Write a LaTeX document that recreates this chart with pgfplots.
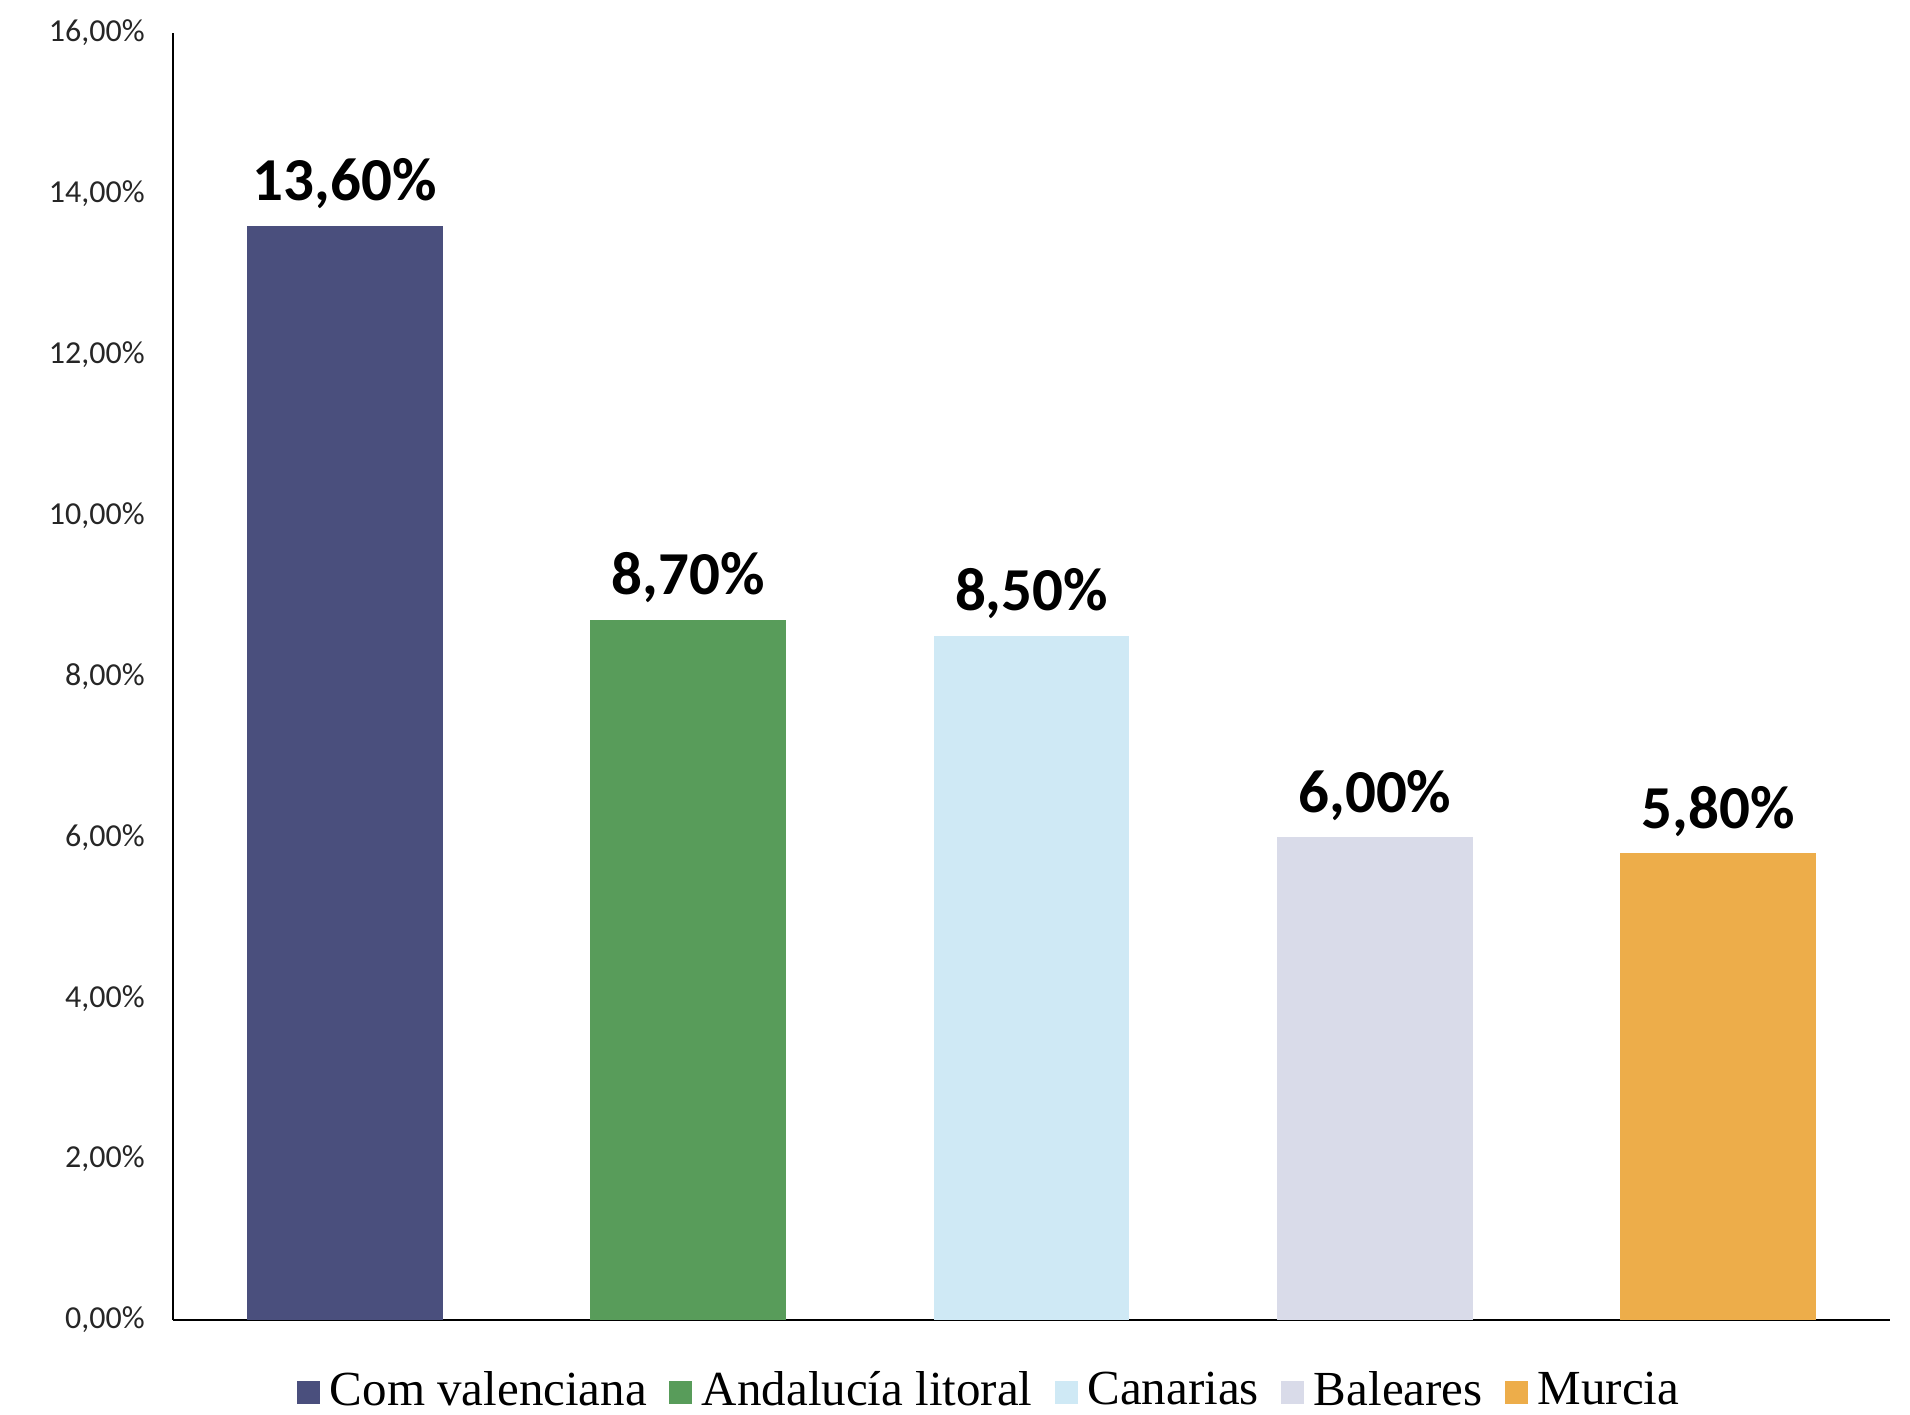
\documentclass[border=0pt]{standalone}
\usepackage{pgfplots}
\pgfplotsset{compat=1.18}
\usepackage{fontspec}
\setmainfont{Carlito}
\newfontfamily\legfont{Liberation Serif}
\definecolor{c1}{HTML}{4A4F7D}
\definecolor{c2}{HTML}{589C5A}
\definecolor{c3}{HTML}{CFE9F5}
\definecolor{c4}{HTML}{D9DBE9}
\definecolor{c5}{HTML}{EDAD4A}
\begin{document}
\begin{tikzpicture}
\begin{axis}[
  at={(0,0)}, anchor=south west,
  width=858.5pt, height=643.5pt, scale only axis,
  xmin=-0.5, xmax=4.5, ymin=0, ymax=16,
  axis x line=bottom, axis y line=left,
  axis line style={line width=1.1pt, -},
  xtick=\empty,
  ytick={0,2,4,6,8,10,12,14,16},
  yticklabels={{0,00\%},{2,00\%},{4,00\%},{6,00\%},{8,00\%},{10,00\%},{12,00\%},{14,00\%},{16,00\%}},
  major tick length=0pt,
  yticklabel style={font=\fontsize{16}{18}\selectfont, inner xsep=0pt, xshift=-14pt, text=black!85},
  ybar, bar width=0.57, bar shift=0pt,
  nodes near coords={\pgfmathprintnumber[fixed,fixed zerofill,precision=2,use comma,assume math mode=true]{\pgfplotspointmeta}\%},
  every node near coord/.append style={font=\bfseries\fontsize{30.5}{32}\selectfont, text=black, anchor=south, yshift=5pt},
  legend columns=5,
  legend style={draw=none, fill=none, at={(408.5pt,-35pt)}, anchor=center,
    font=\legfont\fontsize{24.5}{26}\selectfont,
    /tikz/every even column/.append style={column sep=9pt},
    /tikz/every odd column/.append style={column sep=3pt},
    nodes={inner xsep=2pt}},
  legend image code/.code={\fill[#1] (0pt,-7pt) rectangle (11.5pt,4.5pt);},
]
\addplot[fill=c1, draw=none] coordinates {(0,13.6)};
\addlegendentry{Com valenciana}
\addplot[fill=c2, draw=none] coordinates {(1,8.7)};
\addlegendentry{Andalucía litoral}
\addplot[fill=c3, draw=none] coordinates {(2,8.5)};
\addlegendentry{Canarias}
\addplot[fill=c4, draw=none] coordinates {(3,6.0)};
\addlegendentry{Baleares}
\addplot[fill=c5, draw=none] coordinates {(4,5.8)};
\addlegendentry{Murcia}
\end{axis}
\pgfresetboundingbox
\path (-86.5pt,-47pt) rectangle (868.5pt,660pt);
\end{tikzpicture}
\end{document}
